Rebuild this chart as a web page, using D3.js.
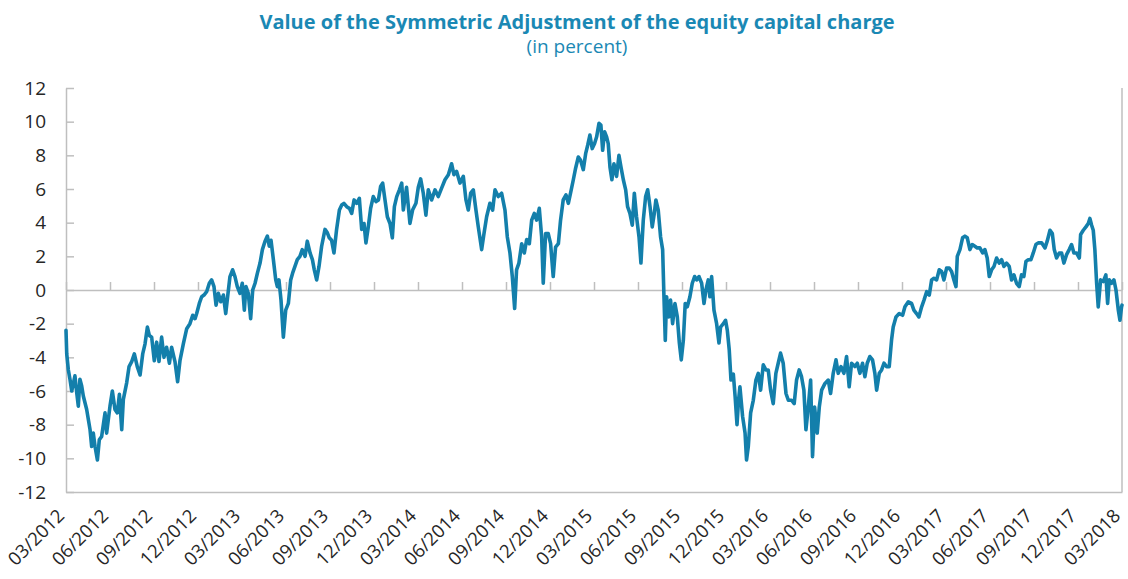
<!DOCTYPE html>
<html>
<head>
<meta charset="utf-8">
<script src="https://cdn.jsdelivr.net/npm/d3@7"></script>
<style>
  html, body { margin: 0; padding: 0; background: #ffffff; }
  svg { display: block; font-family: "Open Sans", "Noto Sans", sans-serif; }
</style>
</head>
<body>
<svg id="chart" width="1128" height="579"></svg>
<script>
// ---------------- data ----------------
const titleText = "Value of the Symmetric Adjustment of the equity capital charge";
const subtitleText = "(in percent)";

// quarterly tick labels (months since 03/2012: 0, 3, 6, ... 72)
const tickLabels = ["03/2012","06/2012","09/2012","12/2012","03/2013","06/2013","09/2013","12/2013",
  "03/2014","06/2014","09/2014","12/2014","03/2015","06/2015","09/2015","12/2015",
  "03/2016","06/2016","09/2016","12/2016","03/2017","06/2017","09/2017","12/2017","03/2018"];
const yTicks = [-12,-10,-8,-6,-4,-2,0,2,4,6,8,10,12];

// time of each observation, in months since the start of 03/2012
const monthsSinceStart = [
 0.00,0.05,0.16,0.27,0.39,0.61,0.73,0.84,0.95,1.07,1.18,1.41,1.64,1.75,1.86,1.98,2.14,2.27,2.43,2.66,
 2.77,3.00,3.16,3.34,3.50,3.64,3.80,3.91,4.14,4.30,4.48,4.66,4.86,5.05,5.23,5.39,5.55,5.68,5.84,6.02,
 6.18,6.34,6.52,6.68,6.86,7.05,7.20,7.43,7.61,7.77,8.00,8.23,8.45,8.64,8.80,8.91,9.09,9.25,9.41,9.59,
 9.77,9.93,10.09,10.23,10.39,10.55,10.73,10.89,11.02,11.18,11.36,11.52,11.68,11.86,12.02,12.16,12.27,12.43,12.59,12.73,
 12.89,13.05,13.23,13.39,13.57,13.73,13.86,13.98,14.14,14.30,14.41,14.52,14.66,14.82,14.98,15.16,15.32,15.45,15.61,15.77,
 15.95,16.11,16.30,16.45,16.64,16.80,16.93,17.09,17.25,17.43,17.66,17.82,17.95,18.11,18.27,18.45,18.64,18.80,18.95,19.14,
 19.32,19.48,19.64,19.82,20.00,20.16,20.32,20.45,20.61,20.77,20.95,21.14,21.30,21.45,21.59,21.75,21.91,22.09,22.25,22.39,
 22.55,22.73,22.89,
 23.00,23.22,23.45,23.63,23.86,24.02,24.18,24.36,24.54,24.70,24.93,25.16,25.38,25.61,25.84,26.07,26.29,26.45,26.63,26.86,
 27.09,27.27,27.43,27.59,27.77,27.95,28.11,28.34,28.50,28.68,28.90,29.09,29.25,29.47,29.70,29.93,30.09,30.27,30.43,30.59,
 30.72,30.88,31.07,31.25,31.41,31.59,31.75,31.93,32.09,32.27,32.43,32.54,32.70,32.88,33.04,33.22,33.38,33.57,33.72,33.90,
 34.09,34.25,34.40,34.59,34.75,34.93,35.09,35.27,35.43,35.57,35.72,35.88,36.04,36.18,36.34,36.47,36.59,36.72,36.86,36.97,
 37.09,37.22,37.36,37.54,37.70,37.84,38.00,38.16,38.29,38.45,38.61,38.75,38.90,39.07,39.20,39.36,39.52,39.66,39.82,39.97,
 40.11,40.22,40.38,40.54,40.68,40.77,40.86,40.95,41.09,41.22,41.36,41.52,41.68,41.82,41.95,42.09,42.22,42.36,42.54,42.70,
 42.86,43.00,43.16,43.34,43.50,43.63,43.79,43.90,44.02,44.18,44.36,44.52,44.63,44.82,44.97,45.09,45.22,45.34,
 45.50,45.62,45.75,45.85,
 45.95,46.13,46.30,46.40,46.52,46.68,46.86,47.04,47.20,47.36,47.54,47.72,47.88,48.04,48.22,48.40,48.56,48.72,48.90,49.09,
 49.25,49.47,49.65,49.81,49.99,50.15,50.31,50.45,50.61,50.77,50.90,51.04,51.22,51.36,51.52,51.75,51.97,52.13,52.31,52.50,
 52.65,52.84,53.04,53.22,53.40,53.56,53.79,53.95,54.13,54.31,54.47,54.63,54.81,54.99,55.15,55.27,55.45,55.61,55.77,55.95,
 56.13,56.29,56.40,56.59,56.81,57.04,57.20,57.43,57.65,57.81,57.99,58.15,58.34,58.50,58.68,58.86,59.02,59.18,59.36,59.54,
 59.70,59.86,60.04,60.22,60.38,60.54,60.68,60.77,60.95,61.13,61.29,61.45,61.63,61.79,61.97,62.13,62.31,62.50,62.65,62.81,
 62.95,63.11,63.27,63.45,63.63,63.79,63.95,64.13,64.31,64.47,64.63,64.81,64.99,65.15,65.31,65.45,65.61,65.79,65.95,66.13,
 66.29,66.52,66.75,66.90,67.09,67.25,67.38,67.54,67.72,67.88,68.04,68.22,68.40,68.56,68.72,68.90,69.09,69.18,69.36,69.54,
 69.70,69.81,69.93,70.04,70.15,70.27,70.38,70.54,70.72,70.90,71.02,71.13,71.29,71.45,71.59,71.75,71.86,71.97,72.00
];

// symmetric adjustment, in percent
const adjustmentPct = [
 -2.4,-3.8,-4.75,-5.3,-6.0,-5.1,-6.1,-6.9,-5.3,-5.7,-6.3,-7.1,-8.3,-9.3,-8.5,-9.3,-10.1,-8.9,-8.7,-7.3,
 -8.5,-6.9,-6.0,-7.1,-7.3,-6.2,-8.3,-6.5,-5.5,-4.55,-4.25,-3.8,-4.55,-5.05,-3.8,-3.2,-2.2,-2.7,-2.8,-4.2,
 -3.1,-4.25,-2.8,-4.0,-3.4,-4.35,-3.4,-4.25,-5.45,-4.2,-3.2,-2.3,-2.0,-1.5,-1.7,-1.4,-0.8,-0.4,-0.3,-0.1,
 0.4,0.6,0.2,-0.9,-0.2,-0.7,-0.3,-1.4,-0.4,0.8,1.2,0.8,0.2,-0.2,0.4,-1.2,0.2,-0.2,-1.7,0.0,
 0.4,1.0,1.6,2.4,2.9,3.2,2.6,2.95,1.8,0.6,0.2,0.6,-0.6,-2.8,-1.2,-0.8,0.6,1.0,1.4,1.8,
 2.0,2.4,2.0,2.9,2.2,1.8,1.2,0.6,1.4,2.6,3.6,3.4,3.1,2.95,2.2,3.6,4.75,5.05,5.15,4.95,
 4.85,4.55,5.35,5.15,5.45,3.6,3.95,2.8,3.75,4.85,5.55,5.25,5.35,6.15,6.35,5.35,4.35,3.95,3.1,4.95,
 5.55,5.95,6.35,
 4.75,6.1,3.96,4.75,5.15,6.1,6.6,5.75,4.45,5.95,5.35,5.95,5.55,6.05,6.55,6.85,7.5,6.85,7.05,6.35,
 6.75,5.35,4.75,5.75,5.95,4.75,3.75,2.4,3.35,4.35,5.15,4.75,5.95,5.55,5.75,4.75,3.15,2.2,0.8,-1.1,
 1.2,1.6,2.75,2.2,3.0,2.75,4.15,4.55,4.15,4.85,3.15,0.4,3.35,3.35,2.75,0.8,2.55,2.75,4.15,5.35,
 5.65,5.15,5.75,6.55,7.25,7.9,7.7,7.15,8.1,8.6,9.2,8.4,8.7,9.1,9.9,9.8,8.3,9.4,9.1,8.7,
 7.3,6.55,7.5,6.75,8.0,7.3,6.55,5.95,4.95,4.55,3.85,5.75,4.35,3.15,1.6,4.15,5.55,5.95,4.95,3.75,
 4.55,5.35,4.75,3.15,2.4,-0.4,-3.0,-0.4,-1.6,-0.6,-2.0,-0.8,-1.6,-3.15,-4.15,-3.0,-0.8,-1.0,-0.4,0.4,
 0.8,0.6,0.8,0.4,-0.8,0.0,0.6,-0.4,0.8,-1.2,-2.0,-3.15,-2.2,-2.0,-1.8,-2.4,-3.55,-5.35,
 -5.0,-6.3,-8.0,-6.6,
 -5.75,-7.5,-8.5,-10.1,-9.3,-7.3,-6.55,-5.35,-4.95,-5.95,-4.45,-4.75,-4.75,-5.95,-6.75,-4.95,-4.35,-3.75,-4.35,-6.15,
 -6.55,-6.55,-6.75,-5.35,-4.75,-5.15,-5.95,-8.3,-6.95,-5.35,-9.9,-6.95,-8.5,-6.95,-5.95,-5.55,-5.35,-6.15,-4.95,-4.15,
 -4.95,-4.55,-4.95,-3.95,-5.75,-4.35,-4.55,-4.35,-4.95,-4.35,-5.15,-4.35,-3.95,-4.15,-4.95,-5.95,-4.95,-4.75,-4.35,-4.55,
 -4.55,-2.95,-2.2,-1.6,-1.4,-1.5,-1.0,-0.7,-0.8,-1.2,-1.4,-1.6,-1.0,-0.6,-0.1,-0.3,0.6,0.7,0.6,1.2,
 1.1,0.6,1.3,1.3,1.1,0.6,0.2,2.0,2.4,3.1,3.2,3.1,2.4,2.7,2.6,2.5,2.5,2.2,2.4,1.9,
 0.8,1.2,1.4,1.9,1.6,1.8,1.4,1.6,1.4,0.6,0.9,0.4,0.2,0.9,0.8,1.7,1.8,1.8,2.2,2.7,
 2.8,2.8,2.5,2.9,3.55,3.35,2.4,1.9,2.2,2.2,1.6,2.1,2.4,2.7,2.2,2.2,1.9,3.3,3.55,3.75,
 3.95,4.25,3.85,3.55,2.4,0.4,-1.0,0.6,0.5,0.9,-0.8,0.6,0.4,0.6,0.0,-1.2,-1.8,-1.0,-0.9
];

// ---------------- chart ----------------
const svg = d3.select("#chart");
const W = 1128, H = 579;
const plotLeft = 66, plotRight = 1122, plotTop = 88, plotBottom = 492;

const x = d3.scaleLinear().domain([0, 72]).range([plotLeft, plotRight]);
const y = d3.scaleLinear().domain([-12, 12]).range([plotBottom, plotTop]);
const tickMonths = tickLabels.map((d, i) => i * 3);

const axisColor = "#bfbfbf";
const textColor = "#262626";
const teal = "#1a88b4";
const lineColor = "#137fab";
const fontStack = "'Open Sans', 'Noto Sans', sans-serif";

// title
svg.append("text")
  .attr("x", 577).attr("y", 29)
  .attr("text-anchor", "middle")
  .attr("font-weight", "bold")
  .attr("font-size", 20)
  .attr("fill", teal)
  .text(titleText);
svg.append("text")
  .attr("x", 577).attr("y", 53)
  .attr("text-anchor", "middle")
  .attr("font-size", 19)
  .attr("fill", teal)
  .text(subtitleText);

// y axis (left) with inward ticks
const yAxis = d3.axisLeft(y).tickValues(yTicks).tickSizeInner(-8).tickSizeOuter(0).tickPadding(20)
  .tickFormat(d => d);
const gy = svg.append("g").attr("transform", `translate(${plotLeft},0)`).call(yAxis);
gy.select(".domain").attr("stroke", axisColor).attr("stroke-width", 1.5);
gy.selectAll(".tick line").attr("stroke", axisColor).attr("stroke-width", 1.5);
gy.selectAll(".tick text").attr("fill", textColor).attr("font-size", 19)
  .attr("font-family", fontStack);

// bottom frame line with rotated category labels
const xAxisBottom = d3.axisBottom(x).tickValues(tickMonths).tickSize(0).tickPadding(0)
  .tickFormat((d, i) => tickLabels[i]);
const gxb = svg.append("g").attr("transform", `translate(0,${plotBottom})`).call(xAxisBottom);
gxb.select(".domain").attr("stroke", axisColor).attr("stroke-width", 1.5);
gxb.selectAll(".tick text")
  .attr("fill", textColor).attr("font-size", 18.5)
  .attr("font-family", fontStack)
  .attr("text-anchor", "end")
  .attr("dy", null)
  .attr("y", 0)
  .attr("transform", "translate(-1,25) rotate(-45)");

// right frame line
svg.append("line")
  .attr("x1", x(72)).attr("x2", x(72)).attr("y1", y(12)).attr("y2", y(-12))
  .attr("stroke", axisColor).attr("stroke-width", 1.5);

// zero line with upward quarterly ticks
const xAxisZero = d3.axisBottom(x).tickValues(tickMonths).tickSizeInner(-8).tickSizeOuter(0).tickFormat("");
const gx0 = svg.append("g").attr("transform", `translate(0,${y(0)})`).call(xAxisZero);
gx0.select(".domain").attr("stroke", axisColor).attr("stroke-width", 1.5);
gx0.selectAll(".tick line").attr("stroke", axisColor).attr("stroke-width", 1.5);

// series line
const n = Math.min(monthsSinceStart.length, adjustmentPct.length);
const series = d3.range(n).map(i => ({ m: monthsSinceStart[i], v: adjustmentPct[i] }));
const line = d3.line().x(d => x(d.m)).y(d => y(d.v));
svg.append("path")
  .datum(series)
  .attr("d", line)
  .attr("fill", "none")
  .attr("stroke", lineColor)
  .attr("stroke-width", 3.6)
  .attr("stroke-linejoin", "round")
  .attr("stroke-linecap", "round");
</script>
</body>
</html>
